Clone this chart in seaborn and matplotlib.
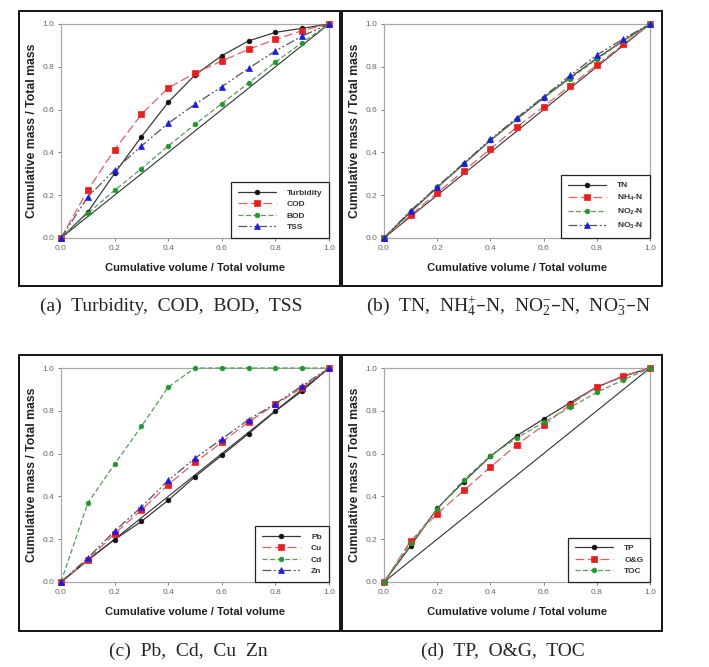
import numpy as np
import pandas as pd
import matplotlib
matplotlib.use("Agg")
import matplotlib.pyplot as plt
import seaborn as sns
from matplotlib.patches import Rectangle

# cumulative volume fraction (x) shared by all panels
volume = [0.0, 0.1, 0.2, 0.3, 0.4, 0.5, 0.6, 0.7, 0.8, 0.9, 1.0]

# (a) Turbidity, COD, BOD, TSS
turbidity = [0.0, 0.121, 0.302, 0.473, 0.634, 0.762, 0.852, 0.921, 0.961, 0.980, 1.0]
cod = [0.0, 0.224, 0.413, 0.578, 0.701, 0.771, 0.827, 0.882, 0.928, 0.969, 1.0]
bod = [0.0, 0.115, 0.223, 0.324, 0.430, 0.531, 0.628, 0.724, 0.822, 0.913, 1.0]
tss = [0.0, 0.192, 0.318, 0.430, 0.536, 0.625, 0.707, 0.793, 0.874, 0.944, 1.0]

# (b) nitrogen species
tn = [0.0, 0.122, 0.236, 0.346, 0.456, 0.556, 0.655, 0.750, 0.840, 0.922, 1.0]
nh4 = [0.0, 0.107, 0.212, 0.313, 0.417, 0.519, 0.614, 0.712, 0.808, 0.905, 1.0]
no2 = [0.0, 0.125, 0.236, 0.346, 0.456, 0.556, 0.655, 0.745, 0.835, 0.920, 1.0]
no3 = [0.0, 0.128, 0.240, 0.350, 0.461, 0.562, 0.660, 0.760, 0.855, 0.931, 1.0]

# (c) heavy metals
pb = [0.0, 0.104, 0.198, 0.283, 0.382, 0.492, 0.592, 0.693, 0.798, 0.893, 1.0]
cu = [0.0, 0.103, 0.226, 0.336, 0.455, 0.559, 0.653, 0.748, 0.830, 0.908, 1.0]
cd = [0.0, 0.369, 0.551, 0.727, 0.911, 1.0, 1.0, 1.0, 1.0, 1.0, 1.0]
zn = [0.0, 0.112, 0.238, 0.350, 0.475, 0.578, 0.668, 0.759, 0.833, 0.917, 1.0]

# (d) TP, O&G, TOC
tp = [0.0, 0.168, 0.344, 0.469, 0.587, 0.684, 0.762, 0.838, 0.911, 0.961, 1.0]
og = [0.0, 0.192, 0.319, 0.428, 0.537, 0.642, 0.732, 0.829, 0.911, 0.964, 1.0]
toc = [0.0, 0.182, 0.341, 0.478, 0.590, 0.673, 0.746, 0.816, 0.886, 0.945, 1.0]

ticks = [0.0, 0.2, 0.4, 0.6, 0.8, 1.0]
tick_labels = ["0.0", "0.2", "0.4", "0.6", "0.8", "1.0"]

sns.set_style("white")
plt.rcParams["font.family"] = ["Liberation Sans", "DejaVu Sans"]

# line styles: (line colour, marker colour, marker, linestyle, marker size)
STY = {
    "black": ("#3a3a3a", "#111111", "o", "-", 3.4),
    "red": ("#e06060", "#ee1c1c", "s", (0, (7, 3)), 4.2),
    "green": ("#5b9a5b", "#1f9a2a", "o", (0, (4, 2)), 3.4),
    "blue": ("#505060", "#1a1aee", "^", (0, (7, 2, 1.5, 2, 1.5, 2)), 4.0),
}

W, H = 709, 667
fig = plt.figure(figsize=(W / 100, H / 100), dpi=100)


def px_axes(x0, x1, y0, y1):
    return fig.add_axes([x0 / W, 1 - y1 / H, (x1 - x0) / W, (y1 - y0) / H])


def panel(ax, series, caption, cap_x, cap_y):
    ax.plot([0, 1], [0, 1], color="#333333", lw=0.8, zorder=1)
    for vals, label, key in series:
        lc, mc, mk, ls, ms = STY[key]
        sns.lineplot(x=volume, y=vals, ax=ax, color=lc, linestyle=ls, lw=0.9,
                     marker=mk, markersize=ms, markerfacecolor=mc,
                     markeredgecolor=mc, markeredgewidth=0.5, label=label,
                     clip_on=False, zorder=3)
    ax.set_xlim(0, 1)
    ax.set_ylim(0, 1)
    ax.set_xticks(ticks)
    ax.set_xticklabels(tick_labels)
    ax.set_yticks(ticks)
    ax.set_yticklabels(tick_labels)
    ax.tick_params(axis="both", labelsize=6, colors="#666666", length=2,
                   width=0.6, pad=3, direction="out", bottom=True, left=True)
    for s in ax.spines.values():
        s.set_color("#a8a8a8")
        s.set_linewidth(0.9)
    ax.set_xlabel("Cumulative volume / Total volume", fontsize=8,
                  fontweight="bold", color="#222222", labelpad=8)
    ax.set_ylabel("Cumulative mass / Total mass", fontsize=8.8,
                  fontweight="bold", color="#222222")
    ax.yaxis.set_label_coords(-0.085, 0.5)
    leg = ax.legend(loc="lower right", borderaxespad=0, fancybox=False,
                    framealpha=1, edgecolor="#222222", handlelength=4.6,
                    prop={"weight": "bold", "size": 6},
                    labelspacing=0.45, borderpad=0.8, handletextpad=1.3)
    leg.get_frame().set_linewidth(0.9)
    for t in leg.get_texts():
        t.set_color("#333333")
    fig.text(cap_x / W, 1 - cap_y / H, caption, ha="center", va="center",
             fontsize=14, family=["Liberation Serif", "DejaVu Serif"])


# panel frames
for (x0, x1, y0, y1) in [(19, 340, 11, 286), (342, 662, 11, 286),
                         (19, 340, 355, 631), (342, 662, 355, 631)]:
    fig.add_artist(Rectangle((x0 / W, 1 - y1 / H), (x1 - x0) / W, (y1 - y0) / H,
                             transform=fig.transFigure, fill=False,
                             edgecolor="black", lw=1.3))

ax_a = px_axes(61, 329, 24, 238)
ax_b = px_axes(384, 650, 24, 238)
ax_c = px_axes(61, 329, 368, 582)
ax_d = px_axes(384, 650, 368, 582)

panel(ax_a, [(turbidity, "Turbidity", "black"), (cod, "COD", "red"),
             (bod, "BOD", "green"), (tss, "TSS", "blue")],
      "(a)  Turbidity,  COD,  BOD,  TSS", 171, 306)
panel(ax_b, [(tn, "TN", "black"), (nh4, r"NH$\mathregular{_4}$-N", "red"),
             (no2, r"NO$\mathregular{_2}$-N", "green"),
             (no3, r"NO$\mathregular{_3}$-N", "blue")],
      r"(b)  TN,  NH$\mathregular{_4^{+}}$–N,  NO$\mathregular{_2^{-}}$–N,  NO$\mathregular{_3^{-}}$–N",
      508, 306)
panel(ax_c, [(pb, "Pb", "black"), (cu, "Cu", "red"),
             (cd, "Cd", "green"), (zn, "Zn", "blue")],
      "(c)  Pb,  Cd,  Cu  Zn", 188, 651)
panel(ax_d, [(tp, "TP", "black"), (og, "O&G", "red"), (toc, "TOC", "green")],
      "(d)  TP,  O&G,  TOC", 503, 651)

fig.savefig("out.png", dpi=100)
